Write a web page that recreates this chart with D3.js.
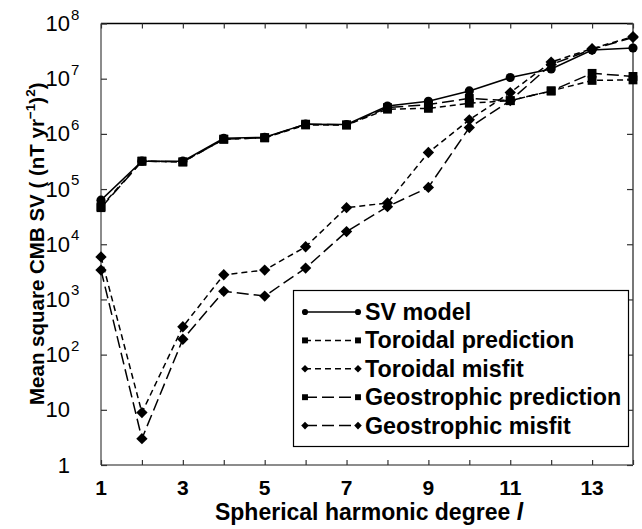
<!DOCTYPE html>
<html><head><meta charset="utf-8">
<script src="https://cdn.jsdelivr.net/npm/d3@7"></script>
<style>body{margin:0;background:#fff}svg{display:block;font-family:"Liberation Sans",Arial,Helvetica,sans-serif}</style>
</head><body><svg id="c" width="642" height="529"></svg>
<script>
const degrees = [1,2,3,4,5,6,7,8,9,10,11,12,13,14];
const svModel       = [6.3e4,3.2e5,3.2e5,8.3e5,8.7e5,1.5e6,1.48e6,3.2e6,3.9e6,6.0e6,1.05e7,1.5e7,3.3e7,3.6e7];
const toroidalPred  = [4.8e4,3.2e5,3.1e5,8.0e5,8.5e5,1.45e6,1.45e6,2.8e6,2.9e6,3.6e6,4.0e6,6.0e6,9.3e6,9.5e6];
const toroidalMis   = [5.9e3,8.9,320,2.8e3,3.4e3,9.0e3,4.6e4,5.6e4,4.6e5,1.8e6,5.6e6,2.0e7,3.5e7,5.8e7];
const geoPred       = [4.6e4,3.2e5,3.1e5,8.0e5,8.5e5,1.5e6,1.45e6,3.0e6,3.4e6,4.4e6,4.0e6,6.0e6,1.25e7,1.1e7];
const geoMis        = [3.4e3,3.0,190,1.4e3,1.15e3,3.7e3,1.7e4,4.8e4,1.07e5,1.3e6,4.0e6,1.8e7,3.4e7,5.6e7];
const seriesNames   = ["SV model","Toroidal prediction","Toroidal misfit","Geostrophic prediction","Geostrophic misfit"];
const xTickLabels   = [1,3,5,7,9,11,13];
const yTickExps     = [0,1,2,3,4,5,6,7,8];

const series = [
  {name:seriesNames[0], values:svModel, dash:null, marker:"circle"},
  {name:seriesNames[1], values:toroidalPred, dash:"6,4", marker:"square"},
  {name:seriesNames[2], values:toroidalMis, dash:"6,4", marker:"diamond"},
  {name:seriesNames[3], values:geoPred, dash:"12,5", marker:"square"},
  {name:seriesNames[4], values:geoMis, dash:"12,5", marker:"diamond"}
];

const L=101, R=633, T=23.5, B=465;
const svg = d3.select("#c");
const x = d3.scaleLinear().domain([1,14]).range([L,R]);
const y = d3.scaleLog().domain([1,1e8]).range([B,T]);

const frame = svg.append("g");
const yVals = yTickExps.map(e=>Math.pow(10,e));
const gl = svg.append("g").attr("transform",`translate(${L},0)`)
  .call(d3.axisLeft(y).tickValues(yVals).tickSize(-6).tickFormat(""));
const gr = svg.append("g").attr("transform",`translate(${R},0)`)
  .call(d3.axisRight(y).tickValues(yVals).tickSize(-6).tickFormat(""));
const gb = svg.append("g").attr("transform",`translate(0,${B})`)
  .call(d3.axisBottom(x).tickValues(degrees).tickSize(-5).tickFormat(""));
const gt = svg.append("g").attr("transform",`translate(0,${T})`)
  .call(d3.axisTop(x).tickValues(degrees).tickSize(-5).tickFormat(""));
[gl,gr,gb,gt].forEach(g=>{g.select(".domain").remove(); g.selectAll(".tick line").attr("stroke","#333").attr("stroke-width",1.2);});

frame.append("line").attr("x1",L).attr("x2",R).attr("y1",T).attr("y2",T).attr("stroke","#000").attr("stroke-width",1.5);
frame.append("line").attr("x1",L).attr("x2",L).attr("y1",T).attr("y2",B).attr("stroke","#666").attr("stroke-width",1.5);
frame.append("line").attr("x1",R).attr("x2",R).attr("y1",T).attr("y2",B).attr("stroke","#777").attr("stroke-width",2);
frame.append("line").attr("x1",L).attr("x2",R).attr("y1",B).attr("y2",B).attr("stroke","#666").attr("stroke-width",1.5);

// x tick labels
svg.append("g").selectAll("text").data(xTickLabels).join("text")
  .attr("x",d=>x(d)).attr("y",B+30).attr("text-anchor","middle")
  .attr("font-size",21).attr("font-weight","bold").text(d=>d);

// y tick labels
const yl = svg.append("g");
yTickExps.forEach(e=>{
  const yy = y(Math.pow(10,e));
  const base = e===0 ? "1" : "10";
  yl.append("text").attr("x",70).attr("y",yy+7.5).attr("text-anchor","end").attr("font-size",22).text(base);
  if(e>=2) yl.append("text").attr("x",71).attr("y",yy-4).attr("font-size",15).text(e);
});

// axis titles
const xt = svg.append("text").attr("x",369).attr("y",520).attr("text-anchor","middle")
  .attr("font-size",23).attr("font-weight","bold");
xt.append("tspan").text("Spherical harmonic degree ");
xt.append("tspan").attr("font-style","italic").text("l");

const ytt = svg.append("text").attr("transform",`translate(44,405) rotate(-90)`)
  .attr("text-anchor","start").attr("font-size",20.5).attr("font-weight","bold");
ytt.append("tspan").text("Mean square CMB SV ( (nT yr");
ytt.append("tspan").attr("font-size",13.5).attr("dy",-9).text("−1");
ytt.append("tspan").attr("dy",9).text(")");
ytt.append("tspan").attr("font-size",13.5).attr("dy",-9).text("2");
ytt.append("tspan").attr("dy",9).text(")");

// markers
function markerPath(type, scale){
  if(type==="circle") return d3.symbol(d3.symbolCircle, 66*scale)();
  if(type==="square") return d3.symbol(d3.symbolSquare, 78*scale)();
  return d3.symbol(d3.symbolSquare, 64*scale)();
}
const line = d3.line().x((d,i)=>x(degrees[i])).y(d=>y(d));
const plot = svg.append("g");
series.forEach(s=>{
  plot.append("path").attr("d",line(s.values)).attr("fill","none").attr("stroke","#000")
    .attr("stroke-width",1.5).attr("stroke-dasharray",s.dash);
});
series.forEach(s=>{
  plot.append("g").selectAll("path").data(s.values).join("path")
    .attr("d",markerPath(s.marker,1))
    .attr("transform",(d,i)=>`translate(${x(degrees[i])},${y(d)})`+(s.marker==="diamond"?" rotate(45)":""))
    .attr("fill","#000");
});

// legend
const lg = svg.append("g");
lg.append("rect").attr("x",293.5).attr("y",290.5).attr("width",335).attr("height",156)
  .attr("fill","#fff").attr("stroke","#000").attr("stroke-width",1.2);
series.forEach((s,i)=>{
  const yy = 312 + i*28.4;
  lg.append("line").attr("x1",305).attr("x2",358).attr("y1",yy).attr("y2",yy)
    .attr("stroke","#000").attr("stroke-width",1.5).attr("stroke-dasharray",s.dash);
  [305,358].forEach(xx=>{
    lg.append("path").attr("d",markerPath(s.marker,0.45))
      .attr("transform",`translate(${xx},${yy})`+(s.marker==="diamond"?" rotate(45)":"")).attr("fill","#000");
  });
  lg.append("text").attr("x",365).attr("y",yy+8).attr("font-size",23.3).attr("font-weight","bold").text(s.name);
});
</script></body></html>
